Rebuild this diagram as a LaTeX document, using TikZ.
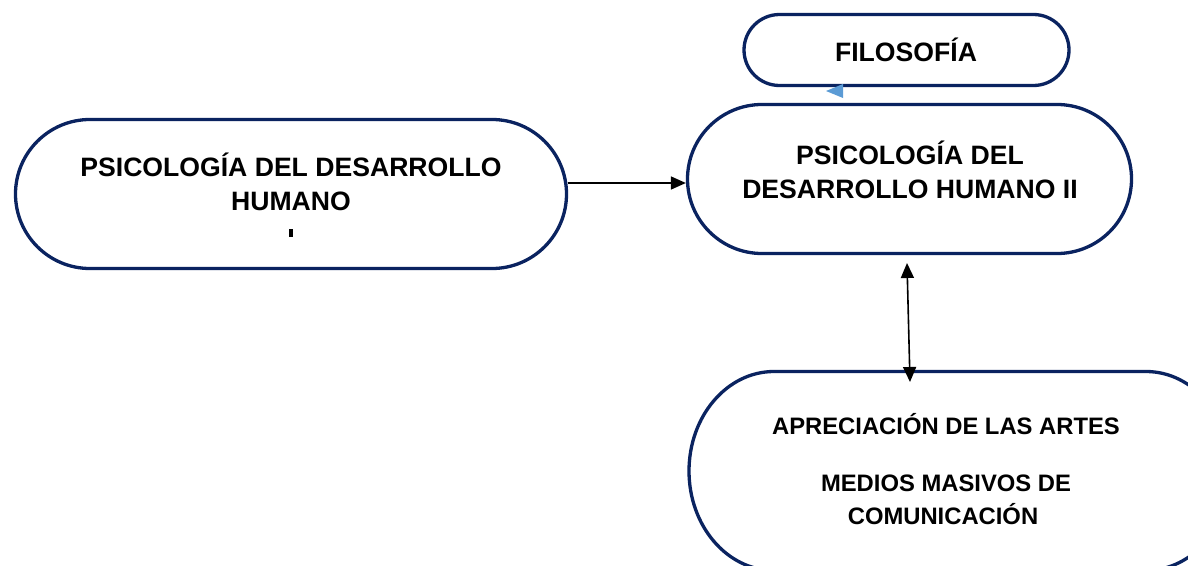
\documentclass[tikz,border=0pt]{standalone}
\usepackage{fontspec}
\setmainfont{Liberation Sans}
\usetikzlibrary{shapes.misc,arrows.meta}
\definecolor{navy}{HTML}{0A2360}
\definecolor{tipblue}{HTML}{5B9BD5}
\begin{document}
\begin{tikzpicture}[x=1pt,y=1pt,
  box/.style={rounded rectangle, draw=navy, line width=3.3pt, fill=white, inner sep=0pt},
  big/.style={font=\fontsize{26.6}{34}\selectfont\bfseries, anchor=base, inner sep=0pt},
  mid/.style={font=\fontsize{23.8}{30}\selectfont\bfseries, anchor=base, inner sep=0pt},
  conn/.style={line width=1.6pt, -{Triangle[length=15pt,width=13pt]}},
  dconn/.style={line width=1.6pt, {Triangle[length=15pt,width=13pt]}-{Triangle[length=15pt,width=13pt]}}]
\useasboundingbox (0,0) rectangle (1188,-565);
\begin{scope}
\clip (0,0) rectangle (1188,-565);
% boxes
\node[box, minimum width=325pt, minimum height=71pt] (F) at (906.5,-50) {};
\node[box, minimum width=551pt, minimum height=149pt] (L) at (291,-194) {};
\node[box, minimum width=444pt, minimum height=149pt] (R) at (909.5,-179) {};
\draw[navy, line width=3.3pt, fill=white] (774,-371.5) -- (1146,-371.5)
  arc[start angle=90, end angle=-90, x radius=85, y radius=99.5] -- (774,-570.5)
  arc[start angle=-90, end angle=-270, x radius=85, y radius=99.5] -- cycle;
\node[inner sep=0pt, minimum width=540pt, minimum height=199pt] (B) at (960,-471) {};
\end{scope}
% texts
\node[big] (ft) at (906,-61.7) {FILOSOFÍA};
\node[big] (l1) at (291,-176.5) {PSICOLOGÍA DEL DESARROLLO};
\node[big] (l2) at (291,-210.5) {HUMANO};
\fill (289,-229) rectangle (292.5,-237);
\node[big] (r1) at (910,-164.5) {PSICOLOGÍA DEL};
\node[big] (r2) at (910,-198.5) {DESARROLLO HUMANO II};
\node[mid] (b1) at (946,-434) {APRECIACIÓN DE LAS ARTES};
\node[mid] (b2) at (946,-491.7) {MEDIOS MASIVOS DE};
\node[mid] (b3) at (943,-524) {COMUNICACIÓN};
% connectors
\coordinate (hs) at ([yshift=11pt]L.east);
\draw[conn] (hs) -- (hs -| R.west);
\coordinate (vt) at (907,-263);
\coordinate (vb) at (910,-382);
\draw[dconn] (vt) -- (vb);
% small blue arrowhead
\coordinate (bt) at (826,-91);
\fill[tipblue] (bt) -- (843,-84) -- (843,-98) -- cycle;
\end{tikzpicture}
\end{document}
